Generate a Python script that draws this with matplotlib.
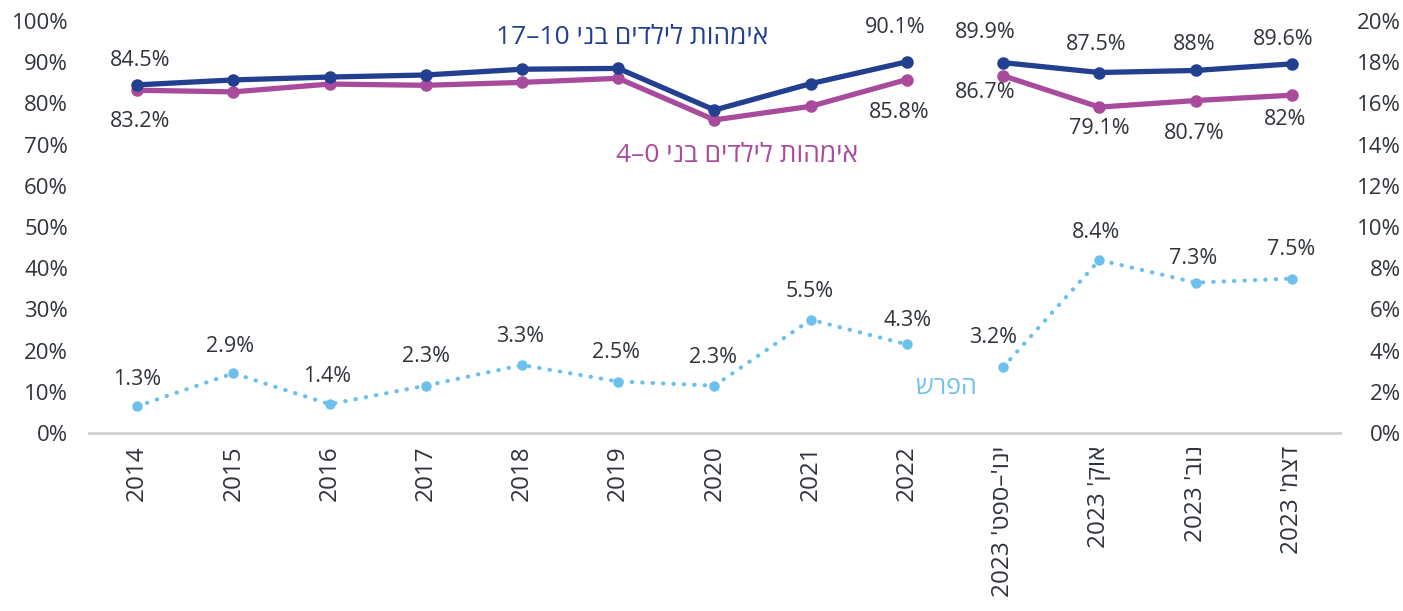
import numpy as np
import matplotlib
matplotlib.use("Agg")
import matplotlib.pyplot as plt

plt.rcParams['font.family'] = ['Open Sans', 'DejaVu Sans']

# Category labels (Hebrew given in visual order since matplotlib has no bidi)
categories = ["2014", "2015", "2016", "2017", "2018", "2019", "2020", "2021", "2022",
              "2023 'טפס–'וני", "2023 'קוא", "2023 'בונ", "2023 'מצד"]

mothers_10_17 = [84.5, 85.7, 86.4, 86.9, 88.3, 88.5, 78.4, 84.8, 90.1, 89.9, 87.5, 88.0, 89.6]
mothers_0_4 = [83.2, 82.8, 84.7, 84.4, 85.1, 86.1, 76.0, 79.3, 85.8, 86.7, 79.1, 80.7, 82.0]
gap = [1.3, 2.9, 1.4, 2.3, 3.3, 2.5, 2.3, 5.5, 4.3, 3.2, 8.4, 7.3, 7.5]

left_ticks = [0, 10, 20, 30, 40, 50, 60, 70, 80, 90, 100]
right_ticks = [0, 2, 4, 6, 8, 10, 12, 14, 16, 18, 20]

label_10_17 = "17–10 ינב םידליל תוהמיא"
label_0_4 = "4–0 ינב םידליל תוהמיא"
label_gap = "שרפה"

BLUE = "#22408f"
PINK = "#a94b9d"
LIGHT = "#6cc0ec"
TXT = "#2f343b"

fig = plt.figure(figsize=(14.03, 6.11), dpi=100)
ax = fig.add_axes([0.0634, 0.2913, 0.8917, 0.6743])
ax2 = ax.twinx()

x = np.arange(len(categories))
split = 9  # break between 2022 and 2023 monthly values
segments = [(0, split), (split, len(categories))]

for a, b in segments:
    ax.plot(x[a:b], mothers_10_17[a:b], color=BLUE, lw=3.8, marker='o', ms=8,
            solid_capstyle='round', zorder=4)
    ax.plot(x[a:b], mothers_0_4[a:b], color=PINK, lw=3.8, marker='o', ms=8,
            solid_capstyle='round', zorder=3)
    ax2.plot(x[a:b], gap[a:b], color=LIGHT, lw=3, ls=(0, (0.1, 2.4)),
             dash_capstyle='round', marker='o', ms=6.5, zorder=3)

ax.set_xlim(-0.5, len(categories) - 0.5)
ax.set_ylim(0, 100)
ax2.set_ylim(0, 20)

ax.set_yticks(left_ticks)
ax.set_yticklabels([f"{t}%" for t in left_ticks])
ax2.set_yticks(right_ticks)
ax2.set_yticklabels([f"{t}%" for t in right_ticks], ha='right')

ax.set_xticks(x)
ax.set_xticklabels(categories, rotation=90, va='top', ha='center')

ax.tick_params(axis='y', length=0, pad=15, labelsize=16, labelcolor=TXT)
ax2.tick_params(axis='y', length=0, pad=44, labelsize=16, labelcolor=TXT)
ax.tick_params(axis='x', length=0, pad=9, labelsize=17.5, labelcolor=TXT)
for t in ax.get_xticklabels() + ax.get_yticklabels() + ax2.get_yticklabels():
    t.set_fontweight('medium')

for a_ in (ax, ax2):
    for s in a_.spines.values():
        s.set_visible(False)
ax.spines['bottom'].set_visible(True)
ax.spines['bottom'].set_color("#d0d0d0")
ax.spines['bottom'].set_linewidth(2)

def lab(axis, i, y, txt, dx, dy):
    # dx, dy in pixels, dy positive = downwards
    axis.annotate(txt, (x[i], y), xytext=(dx * 0.72, -dy * 0.72), textcoords='offset points',
                  ha='center', va='center', fontsize=15.5, fontweight='medium',
                  color=TXT, zorder=6)

# data labels for the mothers series
blue_lab = {0: (3, -24), 8: (-12, -34), 9: (-18, -30), 10: (-3, -28), 11: (-1, -26), 12: (-9, -24)}
pink_lab = {0: (3, 31), 8: (-8, 33), 9: (-18, 17), 10: (0, 21), 11: (-1, 33), 12: (-7, 24)}
for i, (dx, dy) in blue_lab.items():
    lab(ax, i, mothers_10_17[i], f"{mothers_10_17[i]:g}%", dx, dy)
for i, (dx, dy) in pink_lab.items():
    lab(ax, i, mothers_0_4[i], f"{mothers_0_4[i]:g}%", dx, dy)

gap_off = [(0, -27), (-3, -27), (-2, -28), (0, -29), (-2, -29), (-2, -29), (-1, -28),
           (-1, -28), (1, -24), (-10, -30), (-3, -27), (-3, -24), (-1, -29)]
for i, (dx, dy) in enumerate(gap_off):
    lab(ax2, i, gap[i], f"{gap[i]:g}%", dx, dy)

# series names
fig.text(632 / 1403, 1 - 37 / 611, label_10_17, color=BLUE, fontsize=19,
         fontweight='medium', ha='center', va='center')
fig.text(737 / 1403, 1 - 156 / 611, label_0_4, color=PINK, fontsize=19,
         fontweight='medium', ha='center', va='center')
fig.text(946 / 1403, 1 - 387 / 611, label_gap, color=LIGHT, fontsize=18,
         fontweight='medium', ha='center', va='center')

fig.savefig("out.png", dpi=100)
